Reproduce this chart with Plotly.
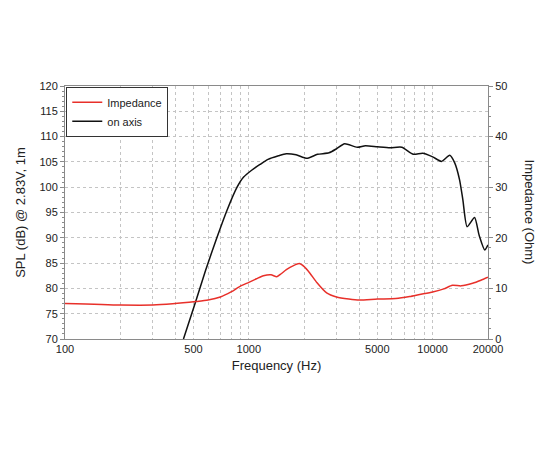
import numpy as np
import plotly.graph_objects as go

# Impedance curve (Ohm, right axis)
freq_imp = [100, 200, 300, 385, 514, 600, 700, 800, 900, 1000, 1100, 1200, 1320,
            1420, 1500, 1600, 1750, 1880, 2000, 2150, 2350, 2650, 3000, 3500,
            4000, 5000, 6300, 7500, 8500, 10000, 11500, 12800, 14300, 16500,
            18300, 20000]
imp_ohm = [7.0, 6.7, 6.7, 6.95, 7.4, 7.7, 8.3, 9.3, 10.45, 11.2, 11.9, 12.5, 12.7,
           12.3, 12.9, 13.7, 14.5, 14.9, 14.3, 13.0, 11.1, 9.1, 8.3, 7.9,
           7.7, 7.9, 8.0, 8.4, 8.8, 9.3, 9.9, 10.6, 10.5, 11.0,
           11.6, 12.2]

# On-axis SPL (dB, left axis)
freq_spl = [441, 514, 582, 673, 762, 863, 937, 1040, 1150, 1271, 1450, 1596,
            1807, 2071, 2364, 2731, 3000, 3319, 3886, 4307, 5000, 5870, 6790,
            7850, 8825, 10000, 11160, 12390, 13180, 14000, 14600, 15400,
            16900, 17900, 19200, 20000]
spl_db = [70.0, 77.4, 83.6, 90.2, 95.5, 100.0, 102.0, 103.4, 104.5, 105.5,
          106.2, 106.6, 106.4, 105.7, 106.5, 106.8, 107.6, 108.6, 107.9, 108.2,
          108.0, 107.8, 107.9, 106.5, 106.7, 106.0, 105.1, 106.3, 104.8, 101.5,
          97.5, 92.2, 94.0, 90.5, 87.6, 88.6]

x_ticks = [100, 500, 1000, 5000, 10000, 20000]
x_minor = [200, 300, 400, 600, 700, 800, 900, 2000, 3000, 4000, 6000, 7000,
           8000, 9000]

font = "Liberation Sans, Arial, sans-serif"
axis_col = "#8a8a8a"
grid_col = "#c4c4c4"

fig = go.Figure()
fig.add_trace(go.Scatter(
    x=freq_imp, y=imp_ohm, name="Impedance", yaxis="y2",
    mode="lines", line=dict(color="#e8302a", width=1.5, shape="spline", smoothing=0.6)
))
fig.add_trace(go.Scatter(
    x=freq_spl, y=spl_db, name="on axis",
    mode="lines", line=dict(color="#111111", width=1.5, shape="spline", smoothing=0.6)
))

fig.update_layout(
    width=550, height=450,
    margin=dict(l=54, r=70, t=78, b=119),
    paper_bgcolor="white", plot_bgcolor="white",
    font=dict(family=font, size=11, color="#222"),
    showlegend=True,
    legend=dict(
        x=0.003, y=0.997, xanchor="left", yanchor="top",
        bgcolor="white", bordercolor="#333", borderwidth=1,
        font=dict(size=11), tracegroupgap=0, itemwidth=30
    ),
    xaxis=dict(
        type="log", range=[2, np.log10(20000)],
        tickvals=x_ticks, ticktext=[str(v) for v in x_ticks],
        showgrid=True, gridcolor=grid_col, griddash="dot", gridwidth=1,
        minor=dict(tickvals=x_minor, showgrid=True, gridcolor=grid_col,
                   griddash="dot", gridwidth=1),
        showline=True, linecolor=axis_col, linewidth=1, mirror=True,
        ticks="", tickfont=dict(size=11),
        title=dict(text="Frequency (Hz)", font=dict(size=13), standoff=6),
        zeroline=False
    ),
    yaxis=dict(
        range=[70, 120], dtick=5,
        showgrid=True, gridcolor=grid_col, griddash="dot", gridwidth=1,
        showline=True, linecolor=axis_col, linewidth=1,
        ticks="outside", ticklen=4, tickcolor=axis_col,
        minor=dict(dtick=1, ticks="outside", ticklen=2, tickcolor=axis_col),
        tickfont=dict(size=11),
        title=dict(text="SPL (dB) @ 2.83V, 1m", font=dict(size=13), standoff=10),
        zeroline=False
    ),
    yaxis2=dict(
        range=[0, 50], dtick=10, overlaying="y", side="right",
        showgrid=False, showline=True, linecolor=axis_col, linewidth=1,
        ticks="outside", ticklen=4, tickcolor=axis_col,
        minor=dict(dtick=2, ticks="outside", ticklen=2, tickcolor=axis_col),
        tickfont=dict(size=11), zeroline=False
    ),
    annotations=[dict(
        text="Impedance (Ohm)", xref="paper", yref="paper",
        x=1.099, y=0.5, xanchor="center", yanchor="middle",
        textangle=90, showarrow=False,
        font=dict(size=13, family=font, color="#222")
    )]
)

fig.write_html("out.html")
